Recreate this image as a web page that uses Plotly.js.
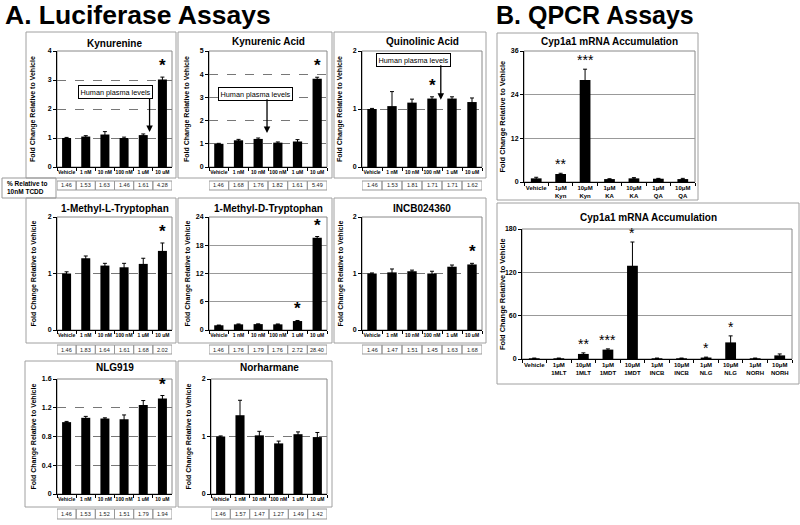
<!DOCTYPE html>
<html><head><meta charset="utf-8">
<script src="https://cdn.plot.ly/plotly-3.0.1.min.js"></script>
<style>body{margin:0;padding:0;background:#fff}#chart{width:800px;height:525px}</style>
</head><body><div id="chart"></div>
<script>
// ---------------- DATA ----------------
const lucDoses = ['Vehicle','1 nM','10 nM','100 nM','1 uM','10 uM'];

const kynVals = [1.00,1.05,1.12,1.00,1.10,3.02];
const kynErr  = [0.02,0.03,0.10,0.03,0.04,0.08];
const kynPct  = ['1.46','1.53','1.63','1.46','1.61','4.28'];
const kynStars= ['','','','','','*'];

const kaVals = [1.00,1.15,1.21,1.05,1.10,3.80];
const kaErr  = [0.02,0.04,0.04,0.03,0.08,0.07];
const kaPct  = ['1.46','1.68','1.76','1.82','1.61','5.49'];
const kaStars= ['','','','','','*'];

const qaVals = [1.00,1.05,1.11,1.18,1.18,1.12];
const qaErr  = [0.01,0.25,0.06,0.03,0.03,0.07];
const qaPct  = ['1.46','1.53','1.81','1.71','1.71','1.62'];
const qaStars= ['','','','*','',''];

const mltVals = [1.00,1.27,1.14,1.11,1.17,1.40];
const mltErr  = [0.03,0.04,0.04,0.07,0.10,0.14];
const mltPct  = ['1.46','1.83','1.64','1.61','1.68','2.02'];
const mltStars= ['','','','','','*'];

const mdtVals = [1.00,1.20,1.25,1.20,1.90,19.6];
const mdtErr  = [0.05,0.08,0.05,0.08,0.12,0.25];
const mdtPct  = ['1.46','1.76','1.79','1.76','2.72','28.40'];
const mdtStars= ['','','','','*','*'];

const incbVals = [1.00,1.02,1.04,1.00,1.12,1.16];
const incbErr  = [0.01,0.06,0.02,0.04,0.03,0.02];
const incbPct  = ['1.46','1.47','1.51','1.45','1.63','1.68'];
const incbStars= ['','','','','','*'];

const nlgVals = [1.00,1.06,1.05,1.04,1.24,1.33];
const nlgErr  = [0.01,0.02,0.01,0.06,0.06,0.04];
const nlgPct  = ['1.46','1.53','1.52','1.51','1.79','1.94'];
const nlgStars= ['','','','','','*'];

const norhVals = [1.00,1.37,1.02,0.88,1.04,0.99];
const norhErr  = [0.01,0.26,0.07,0.04,0.04,0.08];
const norhPct  = ['1.46','1.57','1.47','1.27','1.49','1.42'];
const norhStars= ['','','','','',''];

const qpcr1Cats = ['Vehicle','1μM<br>Kyn','10μM<br>Kyn','1μM<br>KA','10μM<br>KA','1μM<br>QA','10μM<br>QA'];
const qpcr1Vals = [1.0,2.2,28.0,0.8,1.0,0.9,0.8];
const qpcr1Err  = [0.3,0.2,3.0,0.1,0.2,0.1,0.2];
const qpcr1Stars= ['','**','***','','','',''];

const qpcr2Cats = ['Vehicle','1μM<br>1MLT','10μM<br>1MLT','1μM<br>1MDT','10μM<br>1MDT','1μM<br>INCB','10μM<br>INCB','1μM<br>NLG','10μM<br>NLG','1μM<br>NORH','10μM<br>NORH'];
const qpcr2Vals = [1,1,7,13,129,1,1,2,23,1,5];
const qpcr2Err  = [0.3,0.3,1.5,1.0,33,0.3,0.3,0.6,9,0.3,2];
const qpcr2Stars= ['','','**','***','*','','','*','*','',''];

const yTitle = 'Fold Change Relative to Vehicle';
const plasmaLabel = 'Human plasma levels';
const tcddLabel = '% Relative to<br>10nM TCDD';

// ---------------- LAYOUT HELPERS ----------------
const FONT = 'Liberation Sans, Arial, sans-serif';
const W = 800, H = 525;
const px = v => v / W;
const py = v => 1 - v / H;

const panels = [
  {title:'Kynurenine', cats:lucDoses, vals:kynVals, err:kynErr, pct:kynPct, stars:kynStars,
   ax:[57,172], ay:[51,167], range:[0,4], dtick:1, box:[26,176,32,178], tbl:[181,190], ytl:33, titleY:43, grid:'dash',
   plasma:{bx:2.54, by:2.58, ax:4.33, ay0:2.42, ay1:1.21}},
  {title:'Kynurenic Acid', cats:lucDoses, vals:kaVals, err:kaErr, pct:kaPct, stars:kaStars,
   ax:[209,327], ay:[51,167], range:[0,5], dtick:1, box:[178,332,32,178], tbl:[181,190], ytl:187, titleY:41, grid:'dash',
   plasma:{bx:1.84, by:3.15, ax:2.45, ay0:2.98, ay1:1.47}},
  {title:'Quinolinic Acid', cats:lucDoses, vals:qaVals, err:qaErr, pct:qaPct, stars:qaStars,
   ax:[362,482], ay:[51,167], range:[0,2], dtick:1, box:[334,486,32,178], tbl:[181,190], ytl:340, titleY:42, grid:'dash',
   plasma:{bx:2.06, by:1.84, ax:3.44, ay0:1.78, ay1:1.16}},
  {title:'1-Methyl-L-Tryptophan', cats:lucDoses, vals:mltVals, err:mltErr, pct:mltPct, stars:mltStars,
   ax:[57,172], ay:[217,330], range:[0,2], dtick:1, box:[26,176,198,343], tbl:[345,354], ytl:33, titleY:208, grid:'dash'},
  {title:'1-Methyl-D-Tryptophan', cats:lucDoses, vals:mdtVals, err:mdtErr, pct:mdtPct, stars:mdtStars,
   ax:[209,327], ay:[217,330], range:[0,24], dtick:6, box:[178,332,198,343], tbl:[345,354], ytl:187, titleY:208, grid:'solid'},
  {title:'INCB024360', cats:lucDoses, vals:incbVals, err:incbErr, pct:incbPct, stars:incbStars,
   ax:[362,482], ay:[217,330], range:[0,2], dtick:1, box:[334,486,198,343], tbl:[345,354], ytl:340, titleY:208, grid:'dash'},
  {title:'NLG919', cats:lucDoses, vals:nlgVals, err:nlgErr, pct:nlgPct, stars:nlgStars,
   ax:[57,172], ay:[379,494], range:[0,1.6], dtick:0.4, box:[25,176,361,507], tbl:[509,519], ytl:33, titleY:367, grid:'dash'},
  {title:'Norharmane', cats:lucDoses, vals:norhVals, err:norhErr, pct:norhPct, stars:norhStars,
   ax:[211,327], ay:[379,494], range:[0,2], dtick:1, box:[178,332,361,507], tbl:[509,519], ytl:188, titleY:367, grid:'dash'},
  {title:'Cyp1a1 mRNA Accumulation', cats:qpcr1Cats, vals:qpcr1Vals, err:qpcr1Err, stars:qpcr1Stars,
   ax:[524,695], ay:[51,182], range:[0,36], dtick:12, box:[497,698,33,200], ytl:502, titleY:41, titleX:609, grid:'solid', qpcr:true},
  {title:'Cyp1a1 mRNA Accumulation', cats:qpcr2Cats, vals:qpcr2Vals, err:qpcr2Err, stars:qpcr2Stars,
   ax:[522,792], ay:[229,359], range:[0,180], dtick:60, box:[497,799,203,384], ytl:502, titleY:218, titleX:648, grid:'solid', qpcr:true}
];

const traces = [];
const shapes = [];
const annotations = [];
const layout = {
  width: W, height: H,
  margin: {l:0, r:0, t:0, b:0},
  paper_bgcolor: '#fff', plot_bgcolor: '#fff',
  showlegend: false,
  font: {family: FONT, color: '#000'},
  shapes: shapes, annotations: annotations
};

panels.forEach((p, k) => {
  const id = k === 0 ? '' : String(k + 1);
  const xr = 'x' + id, yr = 'y' + id;
  const n = p.cats.length;

  traces.push({
    type: 'bar', x: p.cats, y: p.vals, xaxis: xr, yaxis: yr,
    width: p.qpcr ? 0.44 : 0.47,
    marker: {color: '#000', line: {width: 0}},
    error_y: {type: 'data', array: p.err, visible: true, color: '#000', thickness: 1, width: 2},
    hoverinfo: 'skip'
  });

  layout['xaxis' + id] = {
    domain: [px(p.ax[0]), px(p.ax[1])], anchor: yr, type: 'category',
    range: [-0.5, n - 0.5], showline: true, linecolor: '#000', linewidth: 1,
    ticks: 'outside', tickson: 'boundaries', ticklen: 3, tickcolor: '#000', tickwidth: 1,
    tickangle: 0, showgrid: false, zeroline: false, fixedrange: true,
    tickfont: {family: FONT, size: p.qpcr ? 6 : 5, weight: 700, color: '#000'}
  };
  layout['yaxis' + id] = {
    domain: [py(p.ay[1]), py(p.ay[0])], anchor: xr,
    range: p.range, tick0: 0, dtick: p.dtick, showline: true, linecolor: '#000', linewidth: 1,
    ticks: 'outside', ticklen: 3, tickcolor: '#000', tickwidth: 1,
    showgrid: true, gridcolor: p.grid === 'dash' ? '#777' : '#999', gridwidth: 1,
    griddash: p.grid === 'dash' ? 'dash' : 'solid',
    zeroline: false, fixedrange: true,
    tickfont: {family: FONT, size: 7, weight: 700, color: '#000'}
  };

  // plot-area frame
  shapes.push({type: 'rect', xref: xr + ' domain', yref: yr + ' domain', x0: 0, x1: 1, y0: 0, y1: 1,
    line: {color: '#888', width: 1}, layer: 'below'});
  // panel box
  shapes.push({type: 'rect', xref: 'paper', yref: 'paper',
    x0: px(p.box[0]), x1: px(p.box[1]), y0: py(p.box[3]), y1: py(p.box[2]),
    line: {color: '#a0a0a0', width: 1}});

  // title
  annotations.push({xref: 'paper', yref: 'paper',
    x: px(p.titleX !== undefined ? p.titleX : (p.ax[0] + p.ax[1]) / 2), y: py(p.titleY),
    xanchor: 'center', yanchor: 'middle', showarrow: false, text: p.title,
    font: {family: FONT, size: 10, weight: 700, color: '#000'}});
  // y title
  annotations.push({xref: 'paper', yref: 'paper', x: px(p.ytl), y: py((p.ay[0] + p.ay[1]) / 2),
    xanchor: 'center', yanchor: 'middle', showarrow: false, textangle: -90, text: yTitle,
    font: {family: FONT, size: p.qpcr ? 7.4 : 7, weight: 700, color: '#000'}});

  // significance stars
  p.stars.forEach((s, j) => {
    if (!s) return;
    annotations.push({xref: xr, yref: yr, x: j, y: p.vals[j] + p.err[j],
      xanchor: 'center', yanchor: 'bottom', showarrow: false, text: s, yshift: p.qpcr ? -1 : 0,
      font: {family: FONT, size: p.qpcr ? 14 : 17, weight: p.qpcr ? 400 : 700, color: '#000'}});
  });

  // % relative table
  if (p.pct) {
    p.pct.forEach((v, j) => {
      shapes.push({type: 'rect', xref: xr, yref: 'paper', x0: j - 0.5, x1: j + 0.5,
        y0: py(p.tbl[1]), y1: py(p.tbl[0]), line: {color: '#999', width: 1}});
      annotations.push({xref: xr, yref: 'paper', x: j, y: py((p.tbl[0] + p.tbl[1]) / 2),
        xanchor: 'center', yanchor: 'middle', showarrow: false, text: v,
        font: {family: FONT, size: 5.5, color: '#222'}});
    });
  }

  // human plasma levels callout
  if (p.plasma) {
    const c = p.plasma;
    annotations.push({xref: xr, yref: yr, x: c.bx, y: c.by, xanchor: 'center', yanchor: 'middle',
      showarrow: false, text: plasmaLabel, bgcolor: '#fff', bordercolor: '#000', borderwidth: 1, borderpad: 1.5,
      font: {family: FONT, size: 7.3, color: '#000'}});
    annotations.push({xref: xr, yref: yr, x: c.ax, y: c.ay1, axref: xr, ayref: yr, ax: c.ax, ay: c.ay0,
      text: '', showarrow: true, arrowhead: 2, arrowsize: 1, arrowwidth: 1.3, arrowcolor: '#000'});
  }
});

// TCDD row label
shapes.push({type: 'rect', xref: 'paper', yref: 'paper', x0: px(2), x1: px(56), y0: py(198), y1: py(178),
  line: {color: '#999', width: 1}});
annotations.push({xref: 'paper', yref: 'paper', x: px(5), y: py(188), xanchor: 'left', yanchor: 'middle',
  align: 'left', showarrow: false, text: tcddLabel, font: {family: FONT, size: 6.5, weight: 700, color: '#000'}});

// section headings
annotations.push({xref: 'paper', yref: 'paper', x: px(3), y: py(15), xanchor: 'left', yanchor: 'middle',
  showarrow: false, text: 'A. Luciferase Assays', font: {family: FONT, size: 26.5, weight: 700, color: '#000'}});
annotations.push({xref: 'paper', yref: 'paper', x: px(494), y: py(15), xanchor: 'left', yanchor: 'middle',
  showarrow: false, text: 'B. QPCR Assays', font: {family: FONT, size: 25, weight: 700, color: '#000'}});

Plotly.newPlot('chart', traces, layout, {staticPlot: true, displayModeBar: false});
</script>
</body></html>
